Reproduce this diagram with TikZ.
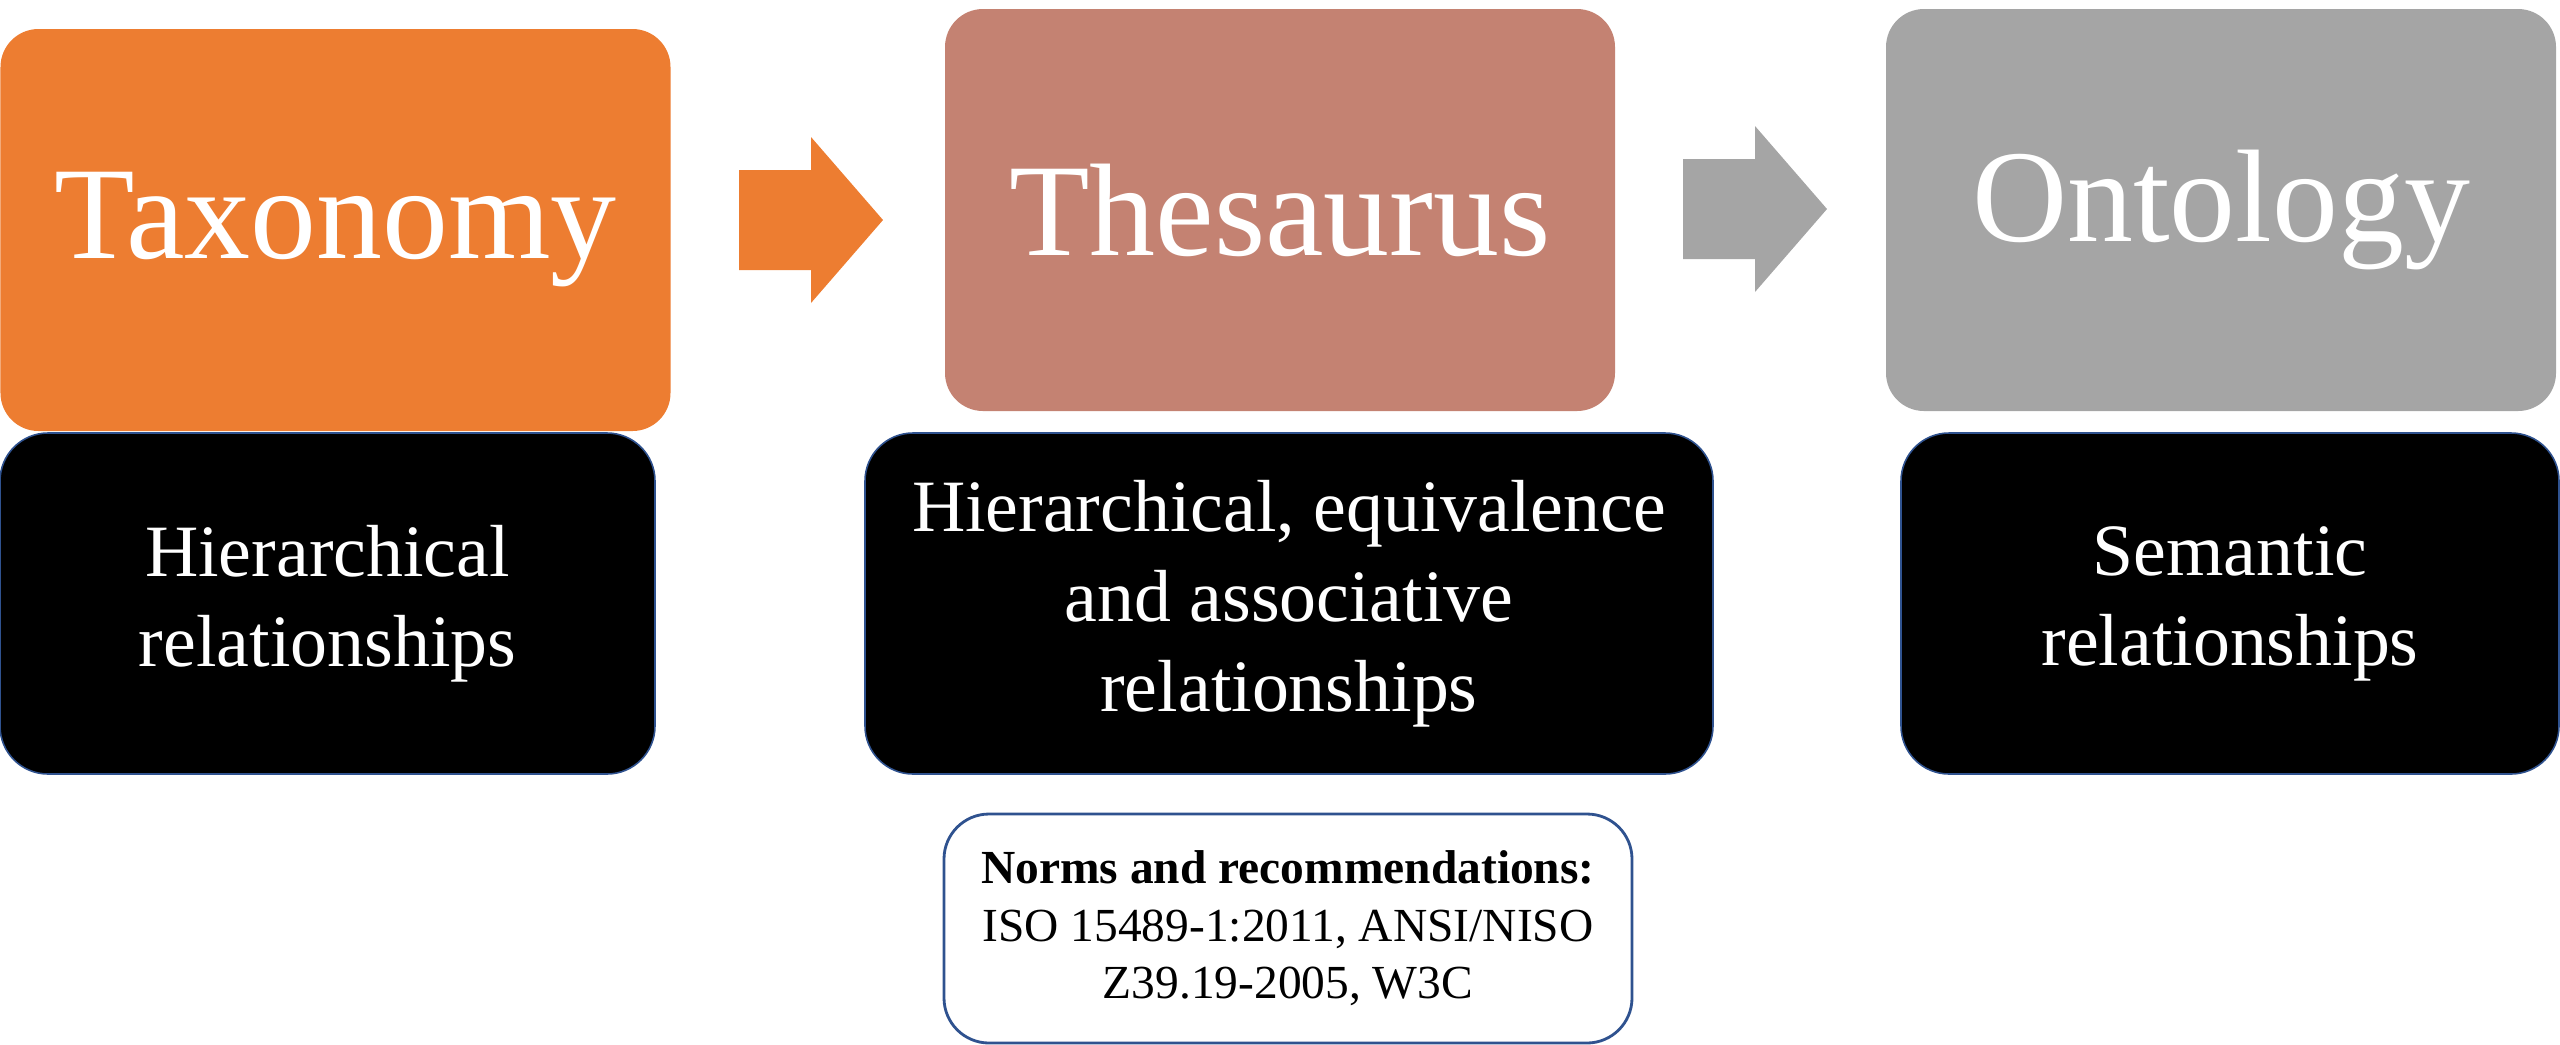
\documentclass[tikz,border=0pt]{standalone}
\usepackage{fontspec}
\setmainfont{Liberation Serif}
\usepackage{xcolor}
\usepackage{tikz}
\definecolor{taxo}{HTML}{ED7D31}
\definecolor{thes}{HTML}{C48272}
\definecolor{onto}{HTML}{A5A5A5}
\definecolor{edge}{HTML}{2F528F}
\tikzset{
  term/.style={rounded corners=3.8mm, inner sep=0pt, minimum width=6.7cm, minimum height=4.02cm, text=white, font=\fontsize{37.5}{45}\selectfont},
  rel/.style={rounded corners=4.8mm, fill=black, draw=edge, line width=0.45pt, inner sep=0pt, minimum height=3.41cm, text=white, align=center, font=\fontsize{21}{25.6}\selectfont},
  norm/.style={rounded corners=4.5mm, fill=white, draw=edge, line width=0.8pt, inner sep=0pt, minimum width=6.88cm, minimum height=2.29cm, align=center, font=\fontsize{13.5}{16.4}\selectfont},
}

\begin{document}
\begin{tikzpicture}
  \useasboundingbox (0,0) rectangle (25.6,-10.44);
  % the three terms
  \node[term, fill=taxo] (tax) at (3.355,-2.30) {Taxonomy};
  \node[term, fill=thes] (thes) at (12.80,-2.10) {Thesaurus};
  \node[term, fill=onto] (onto) at (22.21,-2.10) {Ontology};
  % block arrows between them
  \foreach \x/\y/\c in {7.39/-2.20/taxo,16.83/-2.09/onto}
    \fill[\c] (\x,\y+0.5) -- ++(0.72,0) -- ++(0,0.33) -- ++(0.72,-0.83)
      -- ++(-0.72,-0.83) -- ++(0,0.33) -- ++(-0.72,0) -- cycle;
  % relationships
  \node[rel, minimum width=6.55cm] (rtax) at (3.275,-6.035) {Hierarchical\\relationships};
  \node[rel, minimum width=8.48cm] (rthes) at (12.89,-6.035) {Hierarchical, equivalence\\and associative\\relationships};
  \node[rel, minimum width=6.58cm] (ronto) at (22.30,-6.035) {Semantic\\relationships};
  \node[norm] (norms) at (12.88,-9.285) {\textbf{Norms and recommendations:}\\ISO 15489-1:2011, ANSI/NISO\\Z39.19-2005, W3C};
\end{tikzpicture}
\end{document}
